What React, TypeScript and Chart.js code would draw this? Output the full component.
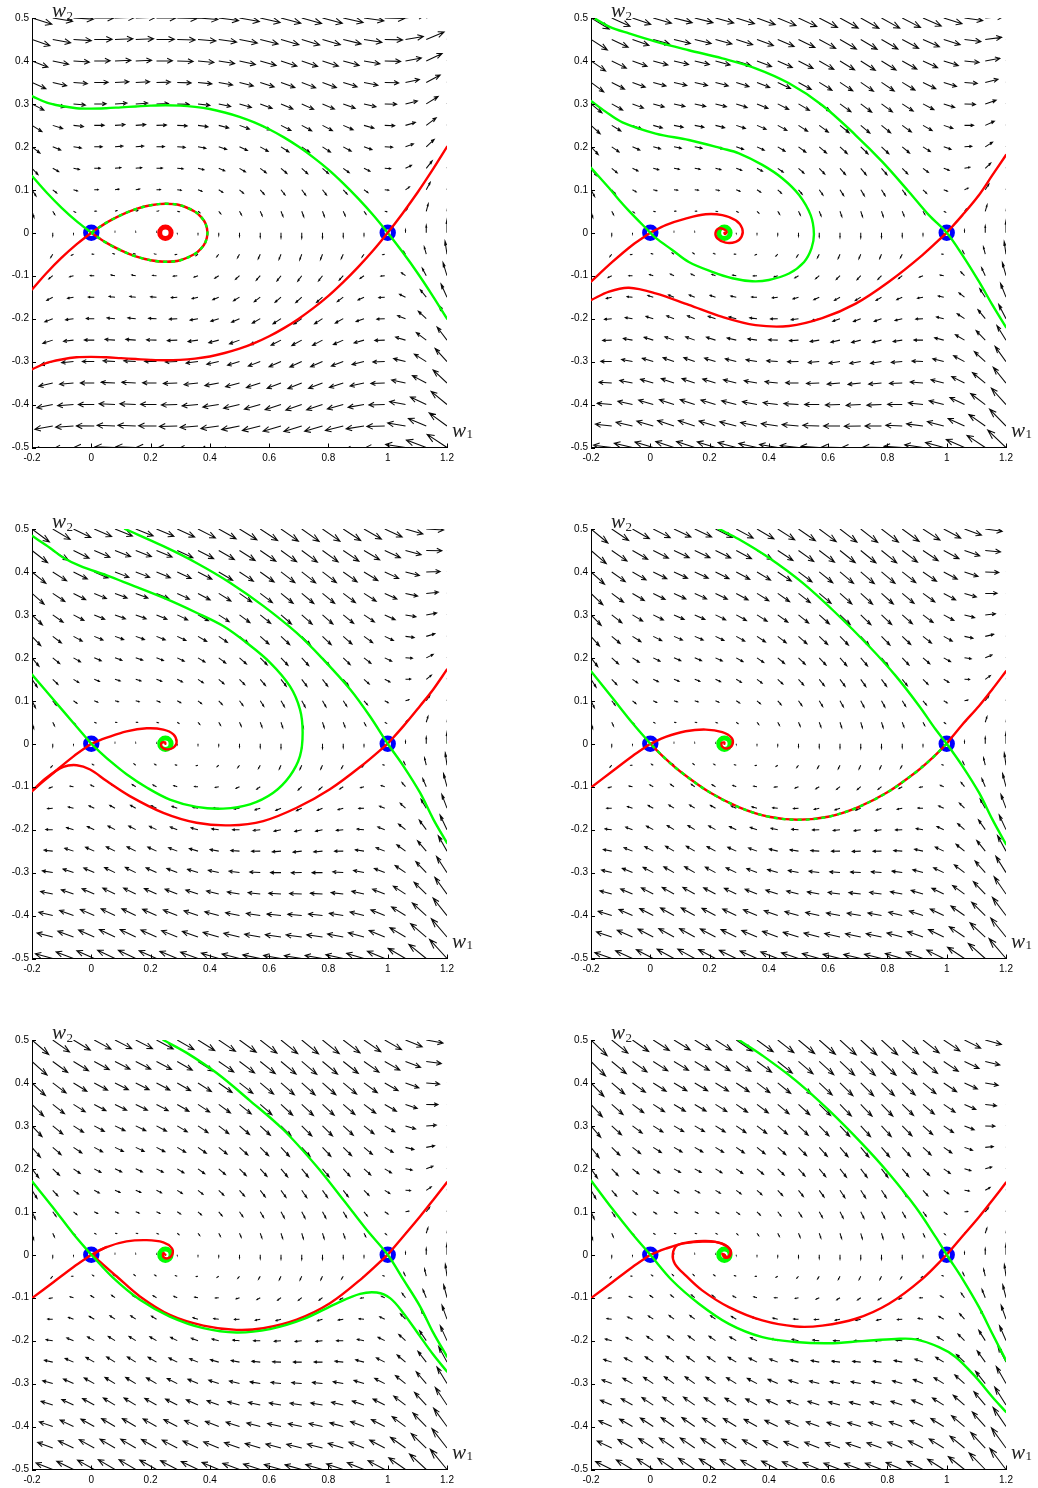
import React, { useEffect, useRef } from "react";
import { Chart, registerables } from "chart.js";

Chart.register(...registerables);

type Pt = [number, number];

// Phase plane of  w1' = w2,  w2' = -c*w2 - w1*(1 - w1)*(w1 - a)
const threshold = 0.25;
const damping = [0, 0.2, 0.3, 0.354, 0.38, 0.45];

// quiver sampling grid
const gridW1 = [-0.2, -0.13, -0.06, 0.01, 0.08, 0.15, 0.22, 0.29, 0.36, 0.43, 0.5, 0.57, 0.64, 0.71, 0.78, 0.85, 0.92, 0.99, 1.06, 1.13, 1.2];
const gridW2 = [-0.5, -0.45, -0.4, -0.35, -0.3, -0.25, -0.2, -0.15, -0.1, -0.05, 0, 0.05, 0.1, 0.15, 0.2, 0.25, 0.3, 0.35, 0.4, 0.45, 0.5];

const xTicks = [-0.2, 0, 0.2, 0.4, 0.6, 0.8, 1, 1.2];
const yTicks = [-0.5, -0.4, -0.3, -0.2, -0.1, 0, 0.1, 0.2, 0.3, 0.4, 0.5];

const saddlePoints: Pt[] = [[0, 0], [1, 0]];
const focusPoint: Pt[] = [[0.25, 0]];

// ---- panel 1 (c = 0)
const p1Stable1: Pt[] = [[-0.2, 0.318], [-0.15, 0.303], [-0.1, 0.295], [-0.05, 0.29], [0, 0.289], [0.05, 0.29], [0.1, 0.292], [0.15, 0.294], [0.2, 0.296], [0.25, 0.297], [0.3, 0.296], [0.35, 0.293], [0.4, 0.288], [0.45, 0.28], [0.5, 0.27], [0.55, 0.257], [0.6, 0.241], [0.65, 0.222], [0.7, 0.2], [0.75, 0.175], [0.8, 0.147], [0.85, 0.115], [0.9, 0.08], [0.95, 0.042], [1, 0], [1.05, -0.045], [1.1, -0.093], [1.15, -0.145], [1.2, -0.2]];
const p1Unstable1: Pt[] = [[-0.2, -0.318], [-0.15, -0.303], [-0.1, -0.295], [-0.05, -0.29], [0, -0.289], [0.05, -0.29], [0.1, -0.292], [0.15, -0.294], [0.2, -0.296], [0.25, -0.297], [0.3, -0.296], [0.35, -0.293], [0.4, -0.288], [0.45, -0.28], [0.5, -0.27], [0.55, -0.257], [0.6, -0.241], [0.65, -0.222], [0.7, -0.2], [0.75, -0.175], [0.8, -0.147], [0.85, -0.115], [0.9, -0.08], [0.95, -0.042], [1, 0], [1.05, 0.045], [1.1, 0.093], [1.15, 0.145], [1.2, 0.2]];
const p1Stable0: Pt[] = [[-0.2, 0.132], [-0.15, 0.093], [-0.1, 0.058], [-0.05, 0.027], [0, 0]];
const p1Unstable0: Pt[] = [[-0.2, -0.132], [-0.15, -0.093], [-0.1, -0.058], [-0.05, -0.027], [0, 0]];
const p1Homoclinic: Pt[] = [[0, 0], [0.05, 0.023], [0.1, 0.041], [0.15, 0.055], [0.2, 0.064], [0.25, 0.0675], [0.3, 0.064], [0.35, 0.049], [0.37, 0.037], [0.385, 0.022], [0.392, 0], [0.385, -0.022], [0.37, -0.037], [0.35, -0.049], [0.3, -0.064], [0.25, -0.0675], [0.2, -0.064], [0.15, -0.055], [0.1, -0.041], [0.05, -0.023], [0, 0]];

// ---- panel 2
const p2Stable1: Pt[] = [[-0.19, 0.5], [-0.139, 0.48], [-0.072, 0.464], [0.018, 0.445], [0.13, 0.425], [0.243, 0.406], [0.355, 0.383], [0.468, 0.348], [0.58, 0.297], [0.693, 0.227], [0.783, 0.165], [0.873, 0.095], [0.94, 0.041], [1, 0], [1.053, -0.052], [1.109, -0.114], [1.154, -0.168], [1.2, -0.22]];
const p2Stable0Wrap: Pt[] = [[-0.2, 0.307], [-0.151, 0.282], [-0.094, 0.257], [0.018, 0.231], [0.13, 0.216], [0.243, 0.196], [0.299, 0.185], [0.378, 0.158], [0.445, 0.127], [0.502, 0.088], [0.541, 0.041], [0.552, -0.002], [0.544, -0.036], [0.519, -0.068], [0.468, -0.095], [0.4, -0.11], [0.344, -0.113], [0.277, -0.106], [0.209, -0.091], [0.13, -0.068], [0.074, -0.04], [0.018, -0.012], [0, 0]];
const p2Stable0: Pt[] = [[-0.2, 0.151], [-0.139, 0.104], [-0.106, 0.077], [-0.072, 0.051], [0, 0]];
const p2Unstable0: Pt[] = [[0, 0], [-0.061, -0.029], [-0.128, -0.068], [-0.2, -0.114]];
const p2Spiral: Pt[] = [[0, 0], [0.052, 0.018], [0.119, 0.033], [0.187, 0.043], [0.243, 0.041], [0.288, 0.029], [0.31, 0.01], [0.308, -0.009], [0.288, -0.021], [0.254, -0.023], [0.226, -0.013], [0.22, 0], [0.232, 0.01], [0.249, 0.008], [0.258, 0.002], [0.252, -0.003], [0.25, 0]];
const p2Unstable1Up: Pt[] = [[1, 0], [1.053, 0.041], [1.109, 0.088], [1.154, 0.134], [1.2, 0.181]];
const p2Unstable1Down: Pt[] = [[1, 0], [0.918, -0.052], [0.805, -0.114], [0.693, -0.165], [0.58, -0.199], [0.468, -0.217], [0.355, -0.215], [0.243, -0.196], [0.13, -0.168], [0.018, -0.141], [-0.072, -0.128], [-0.139, -0.137], [-0.2, -0.157]];

// ---- panel 3
const p3Stable1: Pt[] = [[0.114, 0.5], [0.243, 0.46], [0.355, 0.421], [0.468, 0.375], [0.58, 0.321], [0.693, 0.258], [0.783, 0.196], [0.873, 0.127], [0.94, 0.064], [1, 0], [1.053, -0.052], [1.109, -0.114], [1.154, -0.176], [1.2, -0.231]];
const p3Stable0Wrap: Pt[] = [[-0.2, 0.484], [-0.139, 0.456], [-0.094, 0.433], [-0.038, 0.414], [0.052, 0.392], [0.13, 0.371], [0.243, 0.34], [0.355, 0.305], [0.445, 0.274], [0.524, 0.235], [0.603, 0.189], [0.67, 0.134], [0.704, 0.08], [0.713, 0.026], [0.704, -0.029], [0.67, -0.075], [0.614, -0.114], [0.535, -0.141], [0.445, -0.151], [0.355, -0.147], [0.265, -0.13], [0.187, -0.102], [0.119, -0.071], [0.063, -0.04], [0.018, -0.012], [0, 0]];
const p3Stable0: Pt[] = [[-0.2, 0.161], [-0.128, 0.103], [-0.061, 0.049], [0, 0]];
const p3Unstable0: Pt[] = [[0, 0], [-0.061, -0.03], [-0.128, -0.068], [-0.2, -0.11]];
const p3Spiral: Pt[] = [[0, 0], [0.052, 0.014], [0.119, 0.029], [0.187, 0.036], [0.243, 0.033], [0.277, 0.022], [0.288, 0.004], [0.277, -0.009], [0.254, -0.013], [0.237, -0.007], [0.237, 0.002], [0.249, 0.003], [0.25, 0]];
const p3Unstable1Up: Pt[] = [[1, 0], [1.053, 0.041], [1.109, 0.088], [1.154, 0.127], [1.2, 0.173]];
const p3Unstable1Down: Pt[] = [[1, 0], [0.918, -0.048], [0.805, -0.106], [0.693, -0.149], [0.58, -0.18], [0.468, -0.19], [0.355, -0.184], [0.243, -0.161], [0.13, -0.122], [0.052, -0.087], [-0.004, -0.06], [-0.049, -0.05], [-0.094, -0.054], [-0.151, -0.079], [-0.2, -0.11]];

// ---- panel 4 (travelling front: connection 1 -> 0)
const p4Stable1: Pt[] = [[0.232, 0.5], [0.299, 0.476], [0.4, 0.433], [0.513, 0.375], [0.625, 0.305], [0.738, 0.227], [0.828, 0.158], [0.907, 0.088], [0.963, 0.033], [1, 0], [1.053, -0.052], [1.109, -0.114], [1.154, -0.176], [1.2, -0.234]];
const p4Connection: Pt[] = [[1, 0], [0.95, -0.034], [0.9, -0.064], [0.8, -0.113], [0.7, -0.148], [0.6, -0.17], [0.5, -0.177], [0.4, -0.17], [0.3, -0.148], [0.2, -0.113], [0.1, -0.064], [0.05, -0.034], [0, 0]];
const p4Stable0: Pt[] = [[-0.2, 0.169], [-0.128, 0.107], [-0.061, 0.049], [0, 0]];
const p4Unstable0: Pt[] = [[0, 0], [-0.061, -0.029], [-0.128, -0.064], [-0.2, -0.102]];
const p4Spiral: Pt[] = [[0, 0], [0.052, 0.016], [0.119, 0.029], [0.187, 0.033], [0.243, 0.027], [0.274, 0.014], [0.277, -0.002], [0.26, -0.011], [0.243, -0.007], [0.241, 0.002], [0.25, 0.003], [0.25, 0]];
const p4Unstable1Up: Pt[] = [[1, 0], [1.053, 0.045], [1.109, 0.088], [1.154, 0.127], [1.2, 0.169]];

// ---- panel 5
const p5Stable1: Pt[] = [[0.243, 0.5], [0.322, 0.47], [0.423, 0.423], [0.535, 0.359], [0.648, 0.291], [0.76, 0.206], [0.85, 0.128], [0.929, 0.058], [1, 0], [1.053, -0.058], [1.109, -0.12], [1.154, -0.182], [1.2, -0.237]];
const p5Stable0Wrap: Pt[] = [[0, 0], [0.074, -0.054], [0.164, -0.105], [0.265, -0.144], [0.378, -0.171], [0.49, -0.181], [0.603, -0.173], [0.715, -0.15], [0.828, -0.113], [0.907, -0.091], [0.963, -0.088], [1.008, -0.101], [1.053, -0.136], [1.109, -0.19], [1.154, -0.233], [1.2, -0.272]];
const p5Stable0: Pt[] = [[-0.2, 0.171], [-0.128, 0.109], [-0.061, 0.049], [0, 0]];
const p5Unstable0: Pt[] = [[0, 0], [-0.061, -0.029], [-0.128, -0.064], [-0.2, -0.101]];
const p5Spiral: Pt[] = [[0, 0], [0.052, 0.018], [0.119, 0.031], [0.187, 0.034], [0.243, 0.029], [0.271, 0.016], [0.274, 0.002], [0.26, -0.008], [0.243, -0.005], [0.243, 0.004], [0.25, 0]];
const p5Unstable1Up: Pt[] = [[1, 0], [1.053, 0.043], [1.109, 0.089], [1.154, 0.128], [1.2, 0.169]];
const p5Unstable1Down: Pt[] = [[1, 0], [0.918, -0.052], [0.805, -0.113], [0.693, -0.151], [0.58, -0.171], [0.49, -0.175], [0.378, -0.165], [0.265, -0.14], [0.164, -0.097], [0.085, -0.05], [0.029, -0.016], [0.01, -0.002], [0.022, 0.008], [0.052, 0.018]];

// ---- panel 6
const p6Stable1: Pt[] = [[0.299, 0.5], [0.378, 0.464], [0.49, 0.406], [0.603, 0.336], [0.715, 0.258], [0.805, 0.189], [0.895, 0.111], [0.963, 0.041], [1, 0], [1.053, -0.056], [1.109, -0.122], [1.154, -0.184], [1.2, -0.246]];
const p6Stable0Wrap: Pt[] = [[0, 0], [0.074, -0.06], [0.164, -0.114], [0.265, -0.161], [0.378, -0.192], [0.49, -0.203], [0.603, -0.206], [0.715, -0.201], [0.828, -0.196], [0.895, -0.197], [0.974, -0.215], [1.03, -0.238], [1.098, -0.285], [1.154, -0.331], [1.2, -0.366]];
const p6Stable0: Pt[] = [[-0.2, 0.173], [-0.128, 0.107], [-0.061, 0.049], [0, 0]];
const p6Unstable0: Pt[] = [[0, 0], [-0.061, -0.029], [-0.128, -0.064], [-0.2, -0.101]];
const p6Spiral: Pt[] = [[0, 0], [0.052, 0.014], [0.108, 0.026], [0.164, 0.03], [0.22, 0.03], [0.26, 0.019], [0.271, 0.006], [0.26, -0.006], [0.25, 0]];
const p6Unstable1Up: Pt[] = [[1, 0], [1.053, 0.043], [1.109, 0.088], [1.154, 0.127], [1.2, 0.168]];
const p6Unstable1Down: Pt[] = [[1, 0], [0.918, -0.056], [0.805, -0.114], [0.693, -0.149], [0.58, -0.165], [0.49, -0.167], [0.378, -0.153], [0.265, -0.122], [0.175, -0.083], [0.119, -0.048], [0.083, -0.021], [0.076, 0.002], [0.091, 0.022], [0.13, 0.029], [0.187, 0.032], [0.243, 0.026], [0.271, 0.01], [0.268, -0.004], [0.252, -0.007], [0.243, 0.002], [0.25, 0]];

const RED = "#ff0000";
const GREEN = "#00ff00";
const BLUE = "#0000ff";

type Curve = { pts: Pt[]; color: string; dash?: boolean };
type PanelSpec = { c: number; focusColor: string; curves: Curve[] };

const panels: PanelSpec[] = [
  {
    c: damping[0], focusColor: RED,
    curves: [
      { pts: p1Unstable1, color: RED }, { pts: p1Unstable0, color: RED },
      { pts: p1Stable1, color: GREEN }, { pts: p1Stable0, color: GREEN },
      { pts: p1Homoclinic, color: RED }, { pts: p1Homoclinic, color: GREEN, dash: true },
    ],
  },
  {
    c: damping[1], focusColor: GREEN,
    curves: [
      { pts: p2Stable1, color: GREEN }, { pts: p2Stable0Wrap, color: GREEN }, { pts: p2Stable0, color: GREEN },
      { pts: p2Unstable0, color: RED }, { pts: p2Spiral, color: RED },
      { pts: p2Unstable1Up, color: RED }, { pts: p2Unstable1Down, color: RED },
    ],
  },
  {
    c: damping[2], focusColor: GREEN,
    curves: [
      { pts: p3Stable1, color: GREEN }, { pts: p3Stable0Wrap, color: GREEN }, { pts: p3Stable0, color: GREEN },
      { pts: p3Unstable0, color: RED }, { pts: p3Spiral, color: RED },
      { pts: p3Unstable1Up, color: RED }, { pts: p3Unstable1Down, color: RED },
    ],
  },
  {
    c: damping[3], focusColor: GREEN,
    curves: [
      { pts: p4Stable1, color: GREEN }, { pts: p4Stable0, color: GREEN },
      { pts: p4Unstable0, color: RED }, { pts: p4Spiral, color: RED }, { pts: p4Unstable1Up, color: RED },
      { pts: p4Connection, color: RED }, { pts: p4Connection, color: GREEN, dash: true },
    ],
  },
  {
    c: damping[4], focusColor: GREEN,
    curves: [
      { pts: p5Stable1, color: GREEN }, { pts: p5Stable0Wrap, color: GREEN }, { pts: p5Stable0, color: GREEN },
      { pts: p5Unstable0, color: RED }, { pts: p5Spiral, color: RED },
      { pts: p5Unstable1Up, color: RED }, { pts: p5Unstable1Down, color: RED },
    ],
  },
  {
    c: damping[5], focusColor: GREEN,
    curves: [
      { pts: p6Stable1, color: GREEN }, { pts: p6Stable0Wrap, color: GREEN }, { pts: p6Stable0, color: GREEN },
      { pts: p6Unstable0, color: RED }, { pts: p6Spiral, color: RED },
      { pts: p6Unstable1Up, color: RED }, { pts: p6Unstable1Down, color: RED },
    ],
  },
];

const CANVAS_W = 479;
const CANVAS_H = 466;
const COL_STEP = 559;
const ROW_STEP = 511;

// MATLAB-style quiver: arrows scaled so the longest fits 0.9 grid cell
function makeQuiverPlugin(c: number) {
  return {
    id: "quiverField",
    beforeDatasetsDraw(chart: any) {
      const { ctx, chartArea: a } = chart;
      const xs = chart.scales.x;
      const ys = chart.scales.y;
      const nx = gridW1.length;
      const ny = gridW2.length;
      const delx = (gridW1[nx - 1] - gridW1[0]) / nx;
      const dely = (gridW2[ny - 1] - gridW2[0]) / ny;
      const del = delx * delx + dely * dely;
      const vecs: number[][] = [];
      let maxLen = 0;
      for (const w2 of gridW2) {
        for (const w1 of gridW1) {
          const u = w2;
          const v = -c * w2 - w1 * (1 - w1) * (w1 - threshold);
          const len = Math.sqrt((u * u + v * v) / del);
          if (len > maxLen) maxLen = len;
          vecs.push([w1, w2, u, v]);
        }
      }
      const k = maxLen > 0 ? 0.9 / maxLen : 0.9;
      const alpha = 0.33;
      const beta = 0.33;
      const px = (v: number) => xs.getPixelForValue(v);
      const py = (v: number) => ys.getPixelForValue(v);
      ctx.save();
      ctx.beginPath();
      ctx.rect(a.left, a.top, a.right - a.left, a.bottom - a.top);
      ctx.clip();
      ctx.strokeStyle = "#0a0a0a";
      ctx.lineWidth = 1.05;
      ctx.lineCap = "butt";
      ctx.lineJoin = "miter";
      ctx.beginPath();
      for (const [x0, y0, u0, v0] of vecs) {
        const u = u0 * k;
        const v = v0 * k;
        const tx = x0 + u;
        const ty = y0 + v;
        ctx.moveTo(px(x0), py(y0));
        ctx.lineTo(px(tx), py(ty));
        ctx.moveTo(px(tx - alpha * (u + beta * v)), py(ty - alpha * (v - beta * u)));
        ctx.lineTo(px(tx), py(ty));
        ctx.lineTo(px(tx - alpha * (u - beta * v)), py(ty - alpha * (v + beta * u)));
      }
      ctx.stroke();
      ctx.restore();
    },
  };
}

// inward tick marks and the w1 / w2 axis names
const decorPlugin = {
  id: "axisDecor",
  afterDraw(chart: any) {
    const { ctx, chartArea: a } = chart;
    const xs = chart.scales.x;
    const ys = chart.scales.y;
    ctx.save();
    ctx.strokeStyle = "#000";
    ctx.lineWidth = 1;
    ctx.beginPath();
    for (const t of xTicks) {
      const p = Math.round(xs.getPixelForValue(t)) + 0.5;
      ctx.moveTo(p, a.bottom);
      ctx.lineTo(p, a.bottom - 4);
    }
    for (const t of yTicks) {
      const p = Math.round(ys.getPixelForValue(t)) + 0.5;
      ctx.moveTo(a.left, p);
      ctx.lineTo(a.left + 4, p);
    }
    ctx.stroke();

    ctx.fillStyle = "#222";
    ctx.textBaseline = "alphabetic";
    ctx.textAlign = "left";
    const big = 'italic 21px "Liberation Serif"';
    const small = '13px "Liberation Serif"';
    // w2 near the top of the vertical axis
    ctx.font = big;
    const x2 = a.left + 20;
    ctx.fillText("w", x2, a.top - 1);
    const ww = ctx.measureText("w").width;
    ctx.font = small;
    ctx.fillText("2", x2 + ww + 0.5, a.top + 1.5);
    // w1 beyond the right end of the horizontal axis
    ctx.font = big;
    const x1 = a.right + 5;
    ctx.fillText("w", x1, a.bottom - 11);
    ctx.font = small;
    ctx.fillText("1", x1 + ww + 0.5, a.bottom - 9.5);
    ctx.restore();
  },
};

const fmtTick = (v: any) => {
  const n = Number(v);
  if (Math.abs(n) < 1e-9) return "0";
  return String(Math.round(n * 10) / 10);
};

function buildConfig(spec: PanelSpec): any {
  const datasets: any[] = [];
  spec.curves.forEach((cv) => {
    datasets.push({
      data: cv.pts.map(([x, y]) => ({ x, y })),
      showLine: true,
      fill: false,
      borderColor: cv.color,
      backgroundColor: cv.color,
      borderWidth: 2.4,
      pointRadius: 0,
      pointHoverRadius: 0,
      tension: 0.35,
      borderDash: cv.dash ? [4, 4] : [],
      borderCapStyle: cv.dash ? "butt" : "round",
      borderJoinStyle: "round",
      clip: 0,
      order: cv.dash ? 0 : 1,
    });
  });
  const marker = (pts: Pt[], color: string) => ({
    data: pts.map(([x, y]) => ({ x, y })),
    showLine: false,
    pointStyle: "circle",
    pointRadius: 5.7,
    pointHoverRadius: 5.7,
    borderWidth: 5,
    pointBorderWidth: 5,
    borderColor: color,
    pointBorderColor: color,
    backgroundColor: "rgba(0,0,0,0)",
    pointBackgroundColor: "rgba(0,0,0,0)",
    order: 5,
  });
  datasets.push(marker(saddlePoints, BLUE));
  datasets.push(marker(focusPoint, spec.focusColor));

  const tickFont = { family: '"Liberation Sans", Arial, sans-serif', size: 10 };
  return {
    type: "scatter",
    data: { datasets },
    plugins: [makeQuiverPlugin(spec.c), decorPlugin],
    options: {
      responsive: false,
      animation: false,
      devicePixelRatio: 1,
      events: [],
      layout: {
        autoPadding: false,
        padding: { left: 0, top: 18, right: CANVAS_W - 447, bottom: CANVAS_H - 447.5 - 16 },
      },
      plugins: {
        legend: { display: false },
        tooltip: { enabled: false },
      },
      scales: {
        x: {
          type: "linear",
          min: -0.2,
          max: 1.2,
          afterBuildTicks: (s: any) => {
            s.ticks = xTicks.map((value) => ({ value }));
          },
          afterFit: (s: any) => {
            s.height = 16;
            s.paddingLeft = 0;
            s.paddingRight = 0;
          },
          grid: { display: false, drawTicks: false, tickLength: 0 },
          border: { display: true, color: "#000", width: 1 },
          ticks: {
            color: "#000",
            font: tickFont,
            padding: 5,
            autoSkip: false,
            maxRotation: 0,
            minRotation: 0,
            callback: fmtTick,
          },
        },
        y: {
          type: "linear",
          min: -0.5,
          max: 0.5,
          afterBuildTicks: (s: any) => {
            s.ticks = yTicks.map((value) => ({ value }));
          },
          afterFit: (s: any) => {
            s.width = 32;
            s.paddingTop = 0;
            s.paddingBottom = 0;
          },
          grid: { display: false, drawTicks: false, tickLength: 0 },
          border: { display: true, color: "#000", width: 1 },
          ticks: {
            color: "#000",
            font: tickFont,
            padding: 3,
            autoSkip: false,
            callback: fmtTick,
          },
        },
      },
    },
  };
}

function PhasePanel({ index }: { index: number }) {
  const ref = useRef<HTMLCanvasElement | null>(null);
  useEffect(() => {
    if (!ref.current) return;
    const chart = new Chart(ref.current, buildConfig(panels[index]));
    return () => chart.destroy();
  }, [index]);
  const col = index % 2;
  const row = Math.floor(index / 2);
  return (
    <canvas
      ref={ref}
      width={CANVAS_W}
      height={CANVAS_H}
      style={{
        position: "absolute",
        left: col * COL_STEP,
        top: row * ROW_STEP,
        width: CANVAS_W,
        height: CANVAS_H,
      }}
    />
  );
}

export default function App() {
  return (
    <div
      style={{
        position: "absolute",
        left: 0,
        top: 0,
        width: 1038,
        height: 1488,
        overflow: "hidden",
        background: "#fff",
      }}
    >
      {panels.map((_, i) => (
        <PhasePanel key={i} index={i} />
      ))}
    </div>
  );
}
